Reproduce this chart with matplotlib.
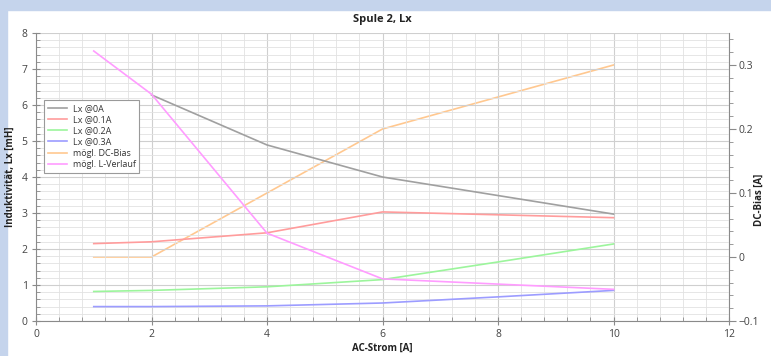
import matplotlib
matplotlib.use("Agg")
import matplotlib.pyplot as plt
from matplotlib.ticker import MultipleLocator

plt.rcParams['font.family'] = ['Open Sans', 'DejaVu Sans']

# data
x_0A = [2, 4, 6, 10]
lx_0A = [6.28, 4.89, 4.0, 2.97]
x_01A = [1, 2, 4, 6, 10]
lx_01A = [2.15, 2.2, 2.45, 3.03, 2.87]
x_02A = [1, 2, 4, 6, 8, 10]
lx_02A = [0.82, 0.85, 0.95, 1.15, 1.64, 2.14]
x_03A = [1, 2, 4, 6, 8, 10]
lx_03A = [0.4, 0.4, 0.42, 0.5, 0.67, 0.85]
x_bias = [1, 2, 6, 10]
dc_bias = [0.0, 0.0, 0.2, 0.3]
x_verlauf = [1, 2, 4, 6, 10]
l_verlauf = [7.5, 6.3, 2.44, 1.17, 0.88]

labels = ["Lx @0A", "Lx @0.1A", "Lx @0.2A", "Lx @0.3A", "mögl. DC-Bias", "mögl. L-Verlauf"]
colors = ["#a0a0a0", "#ff9c9c", "#9cf59c", "#9c9cff", "#ffc890", "#ff9cff"]

fig = plt.figure(figsize=(7.71, 3.56), dpi=100)
fig.patch.set_facecolor("white")
# light blue frame
fig.patches.append(plt.Rectangle((0, 0), 7/771, 1, transform=fig.transFigure, color="#c5d4ec", zorder=-10))
fig.patches.append(plt.Rectangle((0, 1 - 10/356), 1, 10/356, transform=fig.transFigure, color="#c5d4ec", zorder=-10))

ax = fig.add_axes([36/771, 35/356, 693/771, 288/356])
ax2 = ax.twinx()

lw = 1.2
h = []
h += ax.plot(x_0A, lx_0A, color=colors[0], lw=lw, label=labels[0])
h += ax.plot(x_01A, lx_01A, color=colors[1], lw=lw, label=labels[1])
h += ax.plot(x_02A, lx_02A, color=colors[2], lw=lw, label=labels[2])
h += ax.plot(x_03A, lx_03A, color=colors[3], lw=lw, label=labels[3])
h += ax2.plot(x_bias, dc_bias, color=colors[4], lw=lw, label=labels[4])
h += ax.plot(x_verlauf, l_verlauf, color=colors[5], lw=lw, label=labels[5])

ax.set_xlim(0, 12)
ax.set_ylim(0, 8)
ax2.set_ylim(-0.1, 0.35)

ax.xaxis.set_major_locator(MultipleLocator(2))
ax.xaxis.set_minor_locator(MultipleLocator(0.4))
ax.yaxis.set_major_locator(MultipleLocator(1))
ax.yaxis.set_minor_locator(MultipleLocator(0.2))
ax2.yaxis.set_major_locator(MultipleLocator(0.1))
ax2.yaxis.set_minor_locator(MultipleLocator(0.02))

ax.grid(which="major", color="#cfcfcf", lw=0.8)
ax.grid(which="minor", color="#e2e2e2", lw=0.6)
ax.set_axisbelow(True)

spine_c = "#8a8a8a"
for a in (ax, ax2):
    a.spines["top"].set_visible(False)
    for s in ("left", "right", "bottom"):
        a.spines[s].set_color(spine_c)
        a.spines[s].set_linewidth(0.8)
ax2.spines["left"].set_visible(False)
ax2.spines["bottom"].set_visible(False)
ax.spines["right"].set_visible(False)

tick_c = "#444444"
ax.tick_params(which="major", direction="inout", length=6, color=spine_c, labelsize=7.5, labelcolor=tick_c, pad=3)
ax.tick_params(which="minor", direction="in", length=3, color=spine_c)
ax2.tick_params(which="major", direction="out", length=5, color=spine_c, labelsize=7.5, labelcolor=tick_c, pad=2)
ax2.tick_params(which="minor", direction="out", length=3, color=spine_c)
ax2.set_yticks([-0.1, 0, 0.1, 0.2, 0.3])
ax2.set_yticklabels(["\u22120.1", "0", "0.1", "0.2", "0.3"])

ax.set_title("Spule 2, Lx", fontsize=8, fontweight="bold", color="#222222", pad=8)
ax.set_xlabel("AC-Strom [A]", fontsize=7, fontweight="bold", color="#222222", labelpad=2)
ax.set_ylabel("Induktivität, Lx [mH]", fontsize=7, fontweight="bold", color="#222222", labelpad=4)
ax2.set_ylabel("DC-Bias [A]", fontsize=7, fontweight="bold", color="#222222")
ax2.yaxis.set_label_coords(1.036, 0.42)

ax.set_zorder(ax2.get_zorder() + 1)
ax.patch.set_visible(False)

leg = ax.legend(h, labels, loc="upper left", bbox_to_anchor=(0.0115, 0.767), fontsize=6.5,
                frameon=True, fancybox=False, edgecolor="#9a9a9a", framealpha=1,
                handlelength=2.2, handletextpad=0.6, borderpad=0.4, labelspacing=0.25,
                borderaxespad=0)
leg.get_frame().set_linewidth(0.8)
for t in leg.get_texts():
    t.set_color("#333333")

fig.savefig("out.png", dpi=100)
